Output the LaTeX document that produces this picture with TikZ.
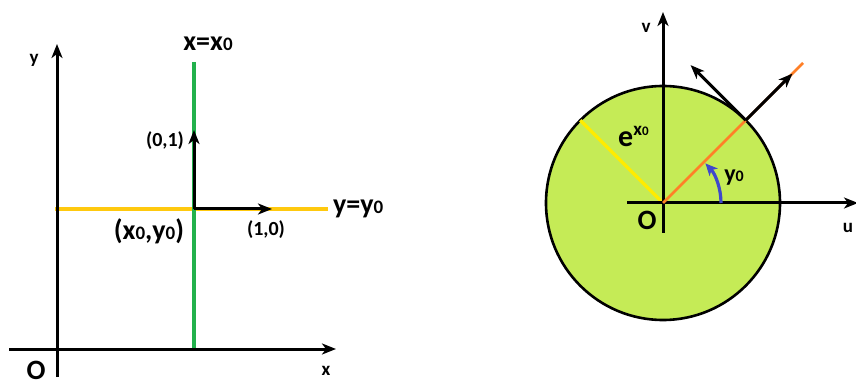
\documentclass[tikz,border=0pt]{standalone}
\usepackage{fontspec}
\setmainfont{Carlito}
\usetikzlibrary{arrows.meta}

\definecolor{discgreen}{RGB}{197,235,86}
\definecolor{linegold}{RGB}{255,201,14}
\definecolor{lineyellow}{RGB}{255,236,0}
\definecolor{linegreen}{RGB}{34,177,76}
\definecolor{lineorange}{RGB}{255,127,39}
\definecolor{arcblue}{RGB}{63,72,204}

% small zero on the baseline
\newcommand{\nought}[1]{{\fontsize{#1}{#1}\selectfont 0}}

\begin{document}
\begin{tikzpicture}[
  x=1pt, y=-1pt,
  font=\bfseries,
  axis/.style={-{Stealth[length=14pt,width=11pt,inset=4pt]}, line width=3pt},
  vec/.style={-{Stealth[length=14pt,width=11pt,inset=4pt]}, line width=3pt},
  guide/.style={line width=3.2pt},
  lab/.style={inner sep=0pt, font=\bfseries\fontsize{19}{19}\selectfont},
  biglab/.style={inner sep=0pt, font=\bfseries\fontsize{28}{28}\selectfont}
]
\useasboundingbox (0,0) rectangle (856,387);

% left panel: the (x,y) plane
\coordinate (ybot) at (57,377);
\coordinate (ytop) at (57,44);
\coordinate (xleft) at (9,349);
\coordinate (xright) at (336,349);
\coordinate (gtop) at (194,62);
\coordinate (gbot) at (194,349);
\coordinate (hleft) at (55,209);
\coordinate (hright) at (328,209);
\coordinate (P0) at (194,209);
\coordinate (e2) at (194,130);
\coordinate (e1) at (272,209);

\draw[guide, draw=linegold] (hleft) -- (hright);
\draw[guide, draw=linegreen] (gtop) -- (gbot);
\draw[axis] (ybot) -- (ytop);
\draw[axis] (xleft) -- (xright);
\draw[vec] (P0) -- (e2);
\draw[vec] (P0) -- (e1);

\node[lab] (ylab) at (34,60) {y};
\node[lab] (xlab) at (326,371) {x};
\node[biglab] (Olab) at (36,370) {O};
\node[biglab] (vline) at (208,44) {x=x\nought{19}};
\node[biglab, anchor=west] (hline) at (333,209) {y=y\nought{19}};
\node[biglab] (ptlab) at (149,231) {(x\nought{19},y\nought{19})};
\node[lab, font=\bfseries\fontsize{20}{20}\selectfont] (e2lab) at (165,141) {(0,1)};
\node[lab, font=\bfseries\fontsize{20}{20}\selectfont] (e1lab) at (266,230) {(1,0)};

% right panel: the (u,v) plane
\coordinate (C) at (663,203);
\coordinate (uleft) at (627,203);
\coordinate (uright) at (858,203);
\coordinate (vbot) at (663,233);
\coordinate (vtop) at (663,12);
\path (C) ++(-45:117) coordinate (P);
\path (C) ++(-45:198) coordinate (ray);
\path (C) ++(-135:117) coordinate (R);
\path (P) ++(-45:66) coordinate (radtip);
\path (P) ++(-135:78) coordinate (tantip);
\path (C) ++(58,0) coordinate (arcstart);

\draw[line width=2.6pt, fill=discgreen] (C) circle[radius=117];
\draw[guide, draw=lineyellow] (C) -- (R);
\draw[axis] (uleft) -- (uright);
\draw[axis] (vbot) -- (vtop);
\draw[line width=2.8pt, draw=lineorange] (C) -- (ray);
\draw[vec] (P) -- (radtip);
\draw[vec] (P) -- (tantip);
\draw[-{Stealth[length=12pt,width=11pt,inset=3pt]}, line width=3.2pt, draw=arcblue]
  (arcstart) arc[start angle=0, end angle=-43, radius=58];

\node[lab] (vlab) at (646,28) {v};
\node[lab] (ulab) at (848,228) {u};
\node[biglab] (O2lab) at (647,220) {O};
\node[biglab, font=\bfseries\fontsize{24}{24}\selectfont] (anglab) at (734,178) {y\nought{16}};
\node[biglab, font=\bfseries\fontsize{30}{30}\selectfont, anchor=base west] (radlab) at (618,147)
  {e\raisebox{11pt}{\fontsize{19}{19}\selectfont x\nought{13}}};

\end{tikzpicture}
\end{document}
